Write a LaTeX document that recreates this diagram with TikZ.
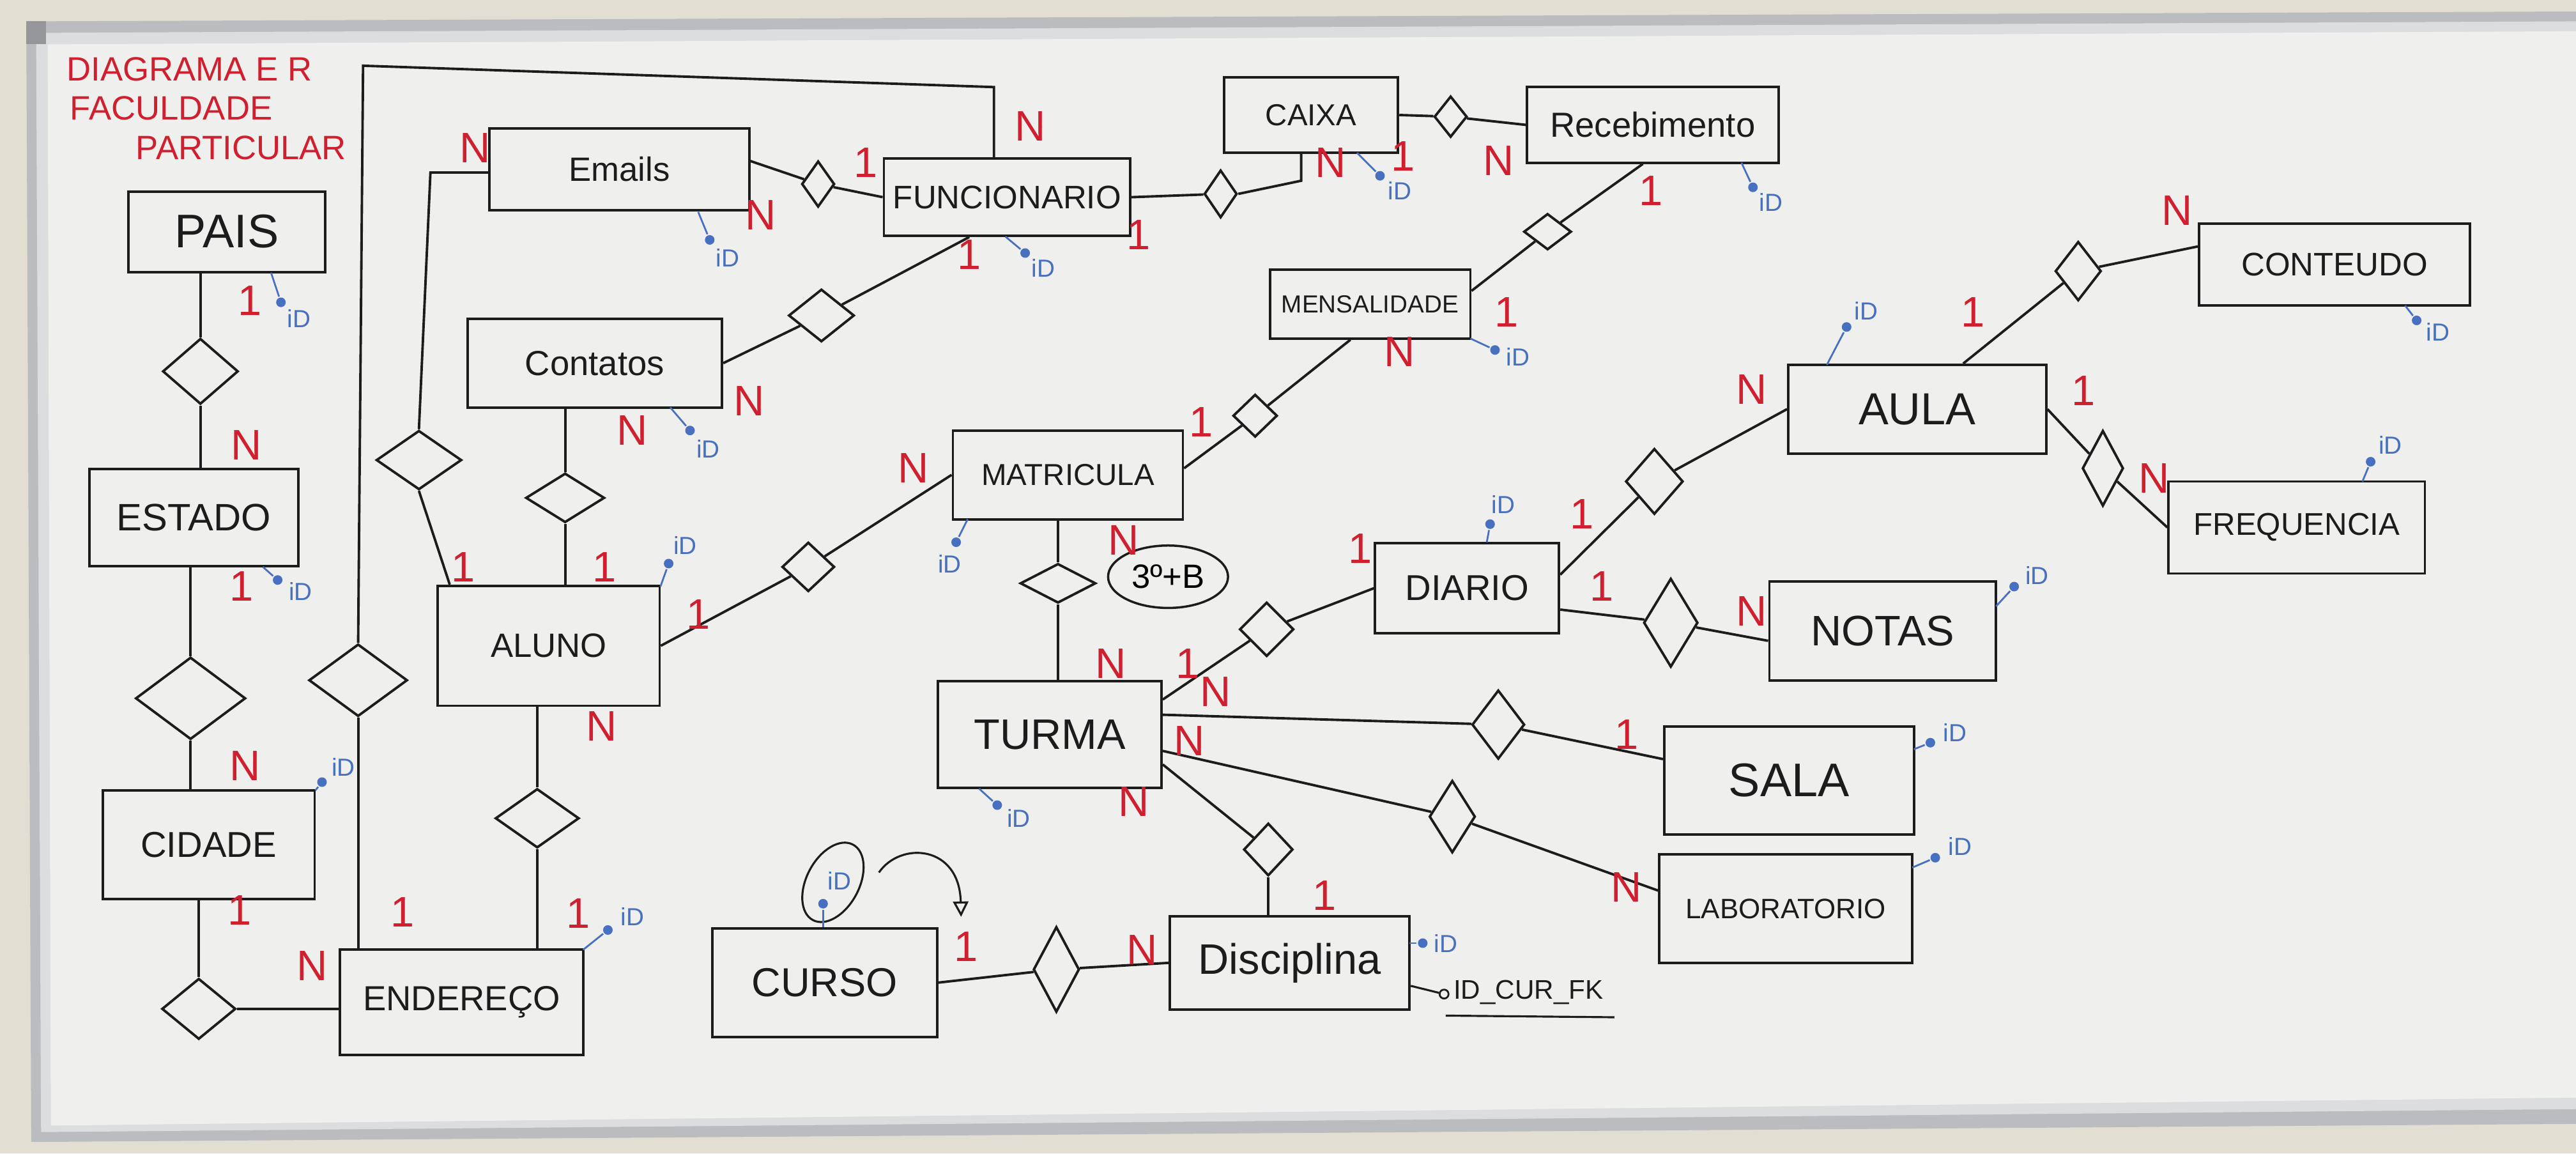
\documentclass[tikz,border=0pt]{standalone}
\usepackage{fontspec}
\setmainfont{Liberation Sans}
\usetikzlibrary{shapes.geometric, arrows.meta, calc}

\definecolor{wall}{RGB}{226,222,210}
\definecolor{frame}{RGB}{186,188,192}
\definecolor{framelip}{RGB}{220,221,223}
\definecolor{board}{RGB}{239,240,238}
\definecolor{cred}{RGB}{208,32,48}
\definecolor{idblue}{RGB}{72,112,192}
\definecolor{ink}{RGB}{28,28,28}

\begin{document}
\begin{tikzpicture}[x=0.2571mm, y=-0.2571mm, line width=1.1pt,
    bx/.style 2 args={minimum width={#1*0.2571mm}, minimum height={#2*0.2571mm}},
    fs/.style={font=\fontsize{#1pt}{#1pt}\selectfont},
    entity/.style={draw=ink, line width=1.1pt, inner sep=0pt, text=ink, fs=16},
    rel/.style={diamond, draw=ink, line width=1.1pt, inner sep=0pt},
    link/.style={draw=ink, line width=1.1pt},
    ttl/.style={text=cred, inner sep=0pt, anchor=west, fs=15},
    card/.style={text=cred, inner sep=0pt, fs=19},
    iddot/.style={circle, fill=idblue, inner sep=0pt, minimum size=1.5mm},
    idtext/.style={text=idblue, inner sep=0pt, fs=11},
    idline/.style={draw=idblue, line width=0.8pt}]

    % whiteboard
    \useasboundingbox (0,0) rectangle (1568,702);
    \fill[wall] (0,0) rectangle (1568,702);
    \fill[frame] (16,13) -- (1568,7) -- (1568,684) -- (19,695) -- cycle;
    \fill[framelip] (22,20) -- (1568,13) -- (1568,675) -- (25,689) -- cycle;
    \fill[board] (29,27) -- (1568,19) -- (1568,668) -- (31,685) -- cycle;
    \fill[frame!80!black] (16,13) rectangle (28,27);

    % title
    \node[ttl] (t1) at (40,42) {DIAGRAMA E R};
    \node[ttl] (t2) at (42,66) {FACULDADE};
    \node[ttl] (t3) at (82,90) {PARTICULAR};

    % entities
    \node[entity, bx={120}{49}, fs=21] (pais) at (138,141) {PAIS};
    \node[entity, bx={127}{59}, fs=17] (estado) at (118,315) {ESTADO};
    \node[entity, bx={129}{66}, fs=16] (cidade) at (127,514) {CIDADE};
    \node[entity, bx={148}{64}, fs=15.5] (endereco) at (281,610) {ENDEREÇO};
    \node[entity, bx={135}{73}, fs=15] (aluno) at (334,393) {ALUNO};
    \node[entity, bx={158}{50}, fs=15] (emails) at (377,103) {Emails};
    \node[entity, bx={150}{47}, fs=14.5] (func) at (613,120) {FUNCIONARIO};
    \node[entity, bx={106}{46}, fs=13.5] (caixa) at (798,70) {CAIXA};
    \node[entity, bx={153}{46}, fs=15.5] (receb) at (1006,76) {Recebimento};
    \node[entity, bx={122}{42}, fs=11] (mens) at (834,185) {MENSALIDADE};
    \node[entity, bx={155}{54}, fs=15.5] (contatos) at (362,221) {Contatos};
    \node[entity, bx={140}{54}, fs=13.5] (matr) at (650,289) {MATRICULA};
    \node[entity, bx={136}{65}, fs=19] (turma) at (639,447) {TURMA};
    \node[entity, bx={112}{55}, fs=16] (diario) at (893,358) {DIARIO};
    \node[entity, bx={138}{60}, fs=19] (notas) at (1146,384) {NOTAS};
    \node[entity, bx={152}{66}, fs=21] (sala) at (1089,475) {SALA};
    \node[entity, bx={154}{66}, fs=12.5] (lab) at (1087,553) {LABORATORIO};
    \node[entity, bx={137}{66}, fs=18] (curso) at (502,598) {CURSO};
    \node[entity, bx={146}{57}, fs=19] (disc) at (785,586) {Disciplina};
    \node[entity, bx={157}{54}, fs=20] (aula) at (1167,249) {AULA};
    \node[entity, bx={165}{50}, fs=14.5] (conteudo) at (1421,161) {CONTEUDO};
    \node[entity, bx={156}{56}, fs=14] (freq) at (1398,321) {FREQUENCIA};

    % relationships
    \node[rel, bx={46}{40}] (d1) at (122,226) {};
    \node[rel, bx={67}{50}] (d2) at (116,425) {};
    \node[rel, bx={45}{37}] (d3) at (121,614) {};
    \node[rel, bx={60}{44}] (d4) at (218,414) {};
    \node[rel, bx={51}{36}] (d5) at (327,498) {};
    \node[rel, bx={52}{36}] (d6) at (255,280) {};
    \node[rel, bx={48}{30}] (d7) at (344,303) {};
    \node[rel, bx={32}{30}] (d8) at (492,345) {};
    \node[rel, bx={20}{28}] (d9) at (498,112) {};
    \node[rel, bx={40}{32}] (d10) at (500,192) {};
    \node[rel, bx={20}{29}] (d11) at (743,118) {};
    \node[rel, bx={20}{25}] (d12) at (883,71) {};
    \node[rel, bx={29}{22}] (d13) at (942,141) {};
    \node[rel, bx={27}{26}] (d14) at (764,253) {};
    \node[rel, bx={46}{24}] (d15) at (644,355) {};
    \node[rel, bx={33}{33}] (d16) at (771,383) {};
    \node[rel, bx={32}{42}] (d17) at (912,441) {};
    \node[rel, bx={28}{44}] (d18) at (884,497) {};
    \node[rel, bx={30}{32}] (d19) at (772,517) {};
    \node[rel, bx={28}{52}] (d20) at (643,590) {};
    \node[rel, bx={35}{40}] (d21) at (1007,293) {};
    \node[rel, bx={33}{54}] (d22) at (1017,379) {};
    \node[rel, bx={28}{36}] (d23) at (1265,165) {};
    \node[rel, bx={25}{46}] (d24) at (1280,285) {};

    % connectors
    \coordinate (topL) at (221,40);
    \coordinate (topR) at (605,53);
    \coordinate (emk) at (262,105);
    \coordinate (cxk) at (792,110);
    \draw[link] (d1.north) -- (d1.north |- pais.south);
    \draw[link] (d1.south) -- (d1.south |- estado.north);
    \draw[link] (d2.north) -- (d2.north |- estado.south);
    \draw[link] (d2.south) -- (d2.south |- cidade.north);
    \draw[link] (d3.north) -- (d3.north |- cidade.south);
    \draw[link] (d3.east) -- (d3.east -| endereco.west);
    \draw[link] (d4.south) -- (d4.south |- endereco.north);
    \draw[link] (d4.north) -- (topL) -- (topR) -- (topR |- func.north);
    \draw[link] (d5.north) -- (d5.north |- aluno.south);
    \draw[link] (d5.south) -- (d5.south |- endereco.north);
    \draw[link] ($(aluno.north west)+(8,0)$) -- (d6.south);
    \draw[link] (d6.north) -- (emk) -- (emk -| emails.west);
    \draw[link] (d7.north) -- (d7.north |- contatos.south);
    \draw[link] (d7.south) -- (d7.south |- aluno.north);
    \draw[link] (aluno.east) -- (d8);
    \draw[link] (d8) -- (matr.west);
    \draw[link] ($(emails.east)+(0,-5)$) -- (d9);
    \draw[link] (d9) -- (func.west);
    \draw[link] ($(func.south)+(-23,0)$) -- (d10);
    \draw[link] (d10) -- (contatos.east);
    \draw[link] (func.east) -- (d11);
    \draw[link] (d11.east) -- (cxk) -- (cxk |- caixa.south);
    \draw[link] (caixa.east) -- (d12);
    \draw[link] (d12) -- (receb.west);
    \draw[link] ($(receb.south)+(-6,0)$) -- (d13);
    \draw[link] (d13) -- ($(mens.east)+(0,-8)$);
    \draw[link] ($(mens.south)+(-12,0)$) -- (d14);
    \draw[link] (d14) -- ($(matr.east)+(0,-4)$);
    \draw[link] (d15.north) -- (d15.north |- matr.south);
    \draw[link] (d15.south) -- (d15.south |- turma.north);
    \draw[link] ($(turma.north east)+(0,12)$) -- (d16);
    \draw[link] (d16) -- (diario.west);
    \draw[link] ($(turma.east)+(0,-12)$) -- (d17);
    \draw[link] (d17) -- ($(sala.west)+(0,-13)$);
    \draw[link] ($(turma.east)+(0,10)$) -- (d18);
    \draw[link] (d18) -- ($(lab.west)+(0,-11)$);
    \draw[link] ($(turma.south east)+(0,-15)$) -- (d19);
    \draw[link] (d19.south) -- (d19.south |- disc.north);
    \draw[link] (curso.east) -- (d20);
    \draw[link] (d20) -- (disc.west);
    \draw[link] ($(diario.north east)+(0,20)$) -- (d21);
    \draw[link] (d21) -- (aula.west);
    \draw[link] ($(diario.east)+(0,13)$) -- (d22);
    \draw[link] (d22) -- ($(notas.west)+(0,6)$);
    \draw[link] ($(aula.north)+(28,0)$) -- (d23);
    \draw[link] (d23) -- ($(conteudo.west)+(0,-11)$);
    \draw[link] (aula.east) -- (d24);
    \draw[link] (d24) -- (freq.west);

    % 3o B note
    \node[ellipse, draw=ink, line width=1pt, inner sep=0pt, bx={73}{38}, fs=15] (turmab) at (711,351) {3º+B};

    % curso id and arrow
    \node[ellipse, draw=ink, line width=0.9pt, inner sep=0pt, bx={32}{52}, rotate=-28] (cid) at (507,537) {};
    \node[iddot] (cdot) at (501,550) {};
    \node[idtext] (ctxt) at (511,536) {iD};
    \draw[idline] (cdot) -- (cdot |- curso.north);
    \coordinate (arrS) at (535,531);
    \coordinate (arrE) at (585,558);
    \draw[link, line width=0.9pt, -{Triangle[open, length=2.4mm, width=2.4mm]}]
        (arrS) .. controls (548,512) and (584,514) .. (arrE);

    % foreign key
    \node[circle, draw=ink, line width=0.8pt, inner sep=0pt, minimum size=1.4mm] (fkdot) at (879,605) {};
    \draw[link, line width=0.9pt] ($(disc.east)+(0,14)$) -- (fkdot);
    \node[anchor=west, inner sep=0pt, text=ink, fs=12] (fk) at (884,604) {ID\_CUR\_FK};
    \draw[link, line width=0.9pt] ($(fk.south west)+(-4,6)$) -- ($(fk.south east)+(6,7)$);

    % cardinalities
    \foreach \x/\y/\t [count=\i] in {152/183/1, 150/271/N, 147/357/1, 149/466/N,
        146/554/1, 190/588/N, 245/555/1, 352/556/1, 366/442/N, 282/345/1,
        368/345/1, 385/262/N, 289/90/N, 463/131/N, 527/99/1, 456/244/N,
        590/155/1, 627/77/N, 693/143/1, 810/99/N, 854/95/1, 912/98/N,
        1005/116/1, 917/190/1, 852/214/N, 731/257/1, 556/285/N, 425/374/1,
        684/329/N, 676/404/N, 723/404/1, 828/334/1, 740/421/N, 724/451/N,
        990/447/1, 990/540/N, 690/488/N, 806/545/1, 588/576/1, 695/578/N,
        963/313/1, 975/357/1, 1066/237/N, 1066/372/N, 1201/190/1, 1325/128/N,
        1268/238/1, 1311/291/N}
        \node[card] (card\i) at (\x,\y) {\t};

    % id attributes
    \foreach \sx/\sy/\dx/\dy/\tx/\ty [count=\i] in {
        165/166/171/184/182/194, 160/345/169/353/183/360,
        192/481/196/476/209/467, 355/578/370/566/385/558,
        402/357/407/343/417/332, 425/129/432/146/443/157,
        612/144/624/154/635/163, 826/93/840/107/852/116,
        1060/99/1067/114/1078/123, 895/206/910/213/924/217,
        408/248/420/262/431/273, 589/316/582/330/578/343,
        596/480/607/490/620/498, 905/330/907/319/915/307,
        1215/369/1226/357/1240/350, 1165/456/1175/452/1190/446,
        1164/528/1178/522/1193/515, 1112/222/1124/199/1136/189,
        1464/186/1471/195/1484/202, 1438/293/1443/281/1455/271,
        858/574/866/574/880/574}
    {
        \node[iddot] (iddot\i) at (\dx,\dy) {};
        \node[idtext] (idtxt\i) at (\tx,\ty) {iD};
        \draw[idline] (\sx,\sy) -- (iddot\i);
    }
\end{tikzpicture}
\end{document}
